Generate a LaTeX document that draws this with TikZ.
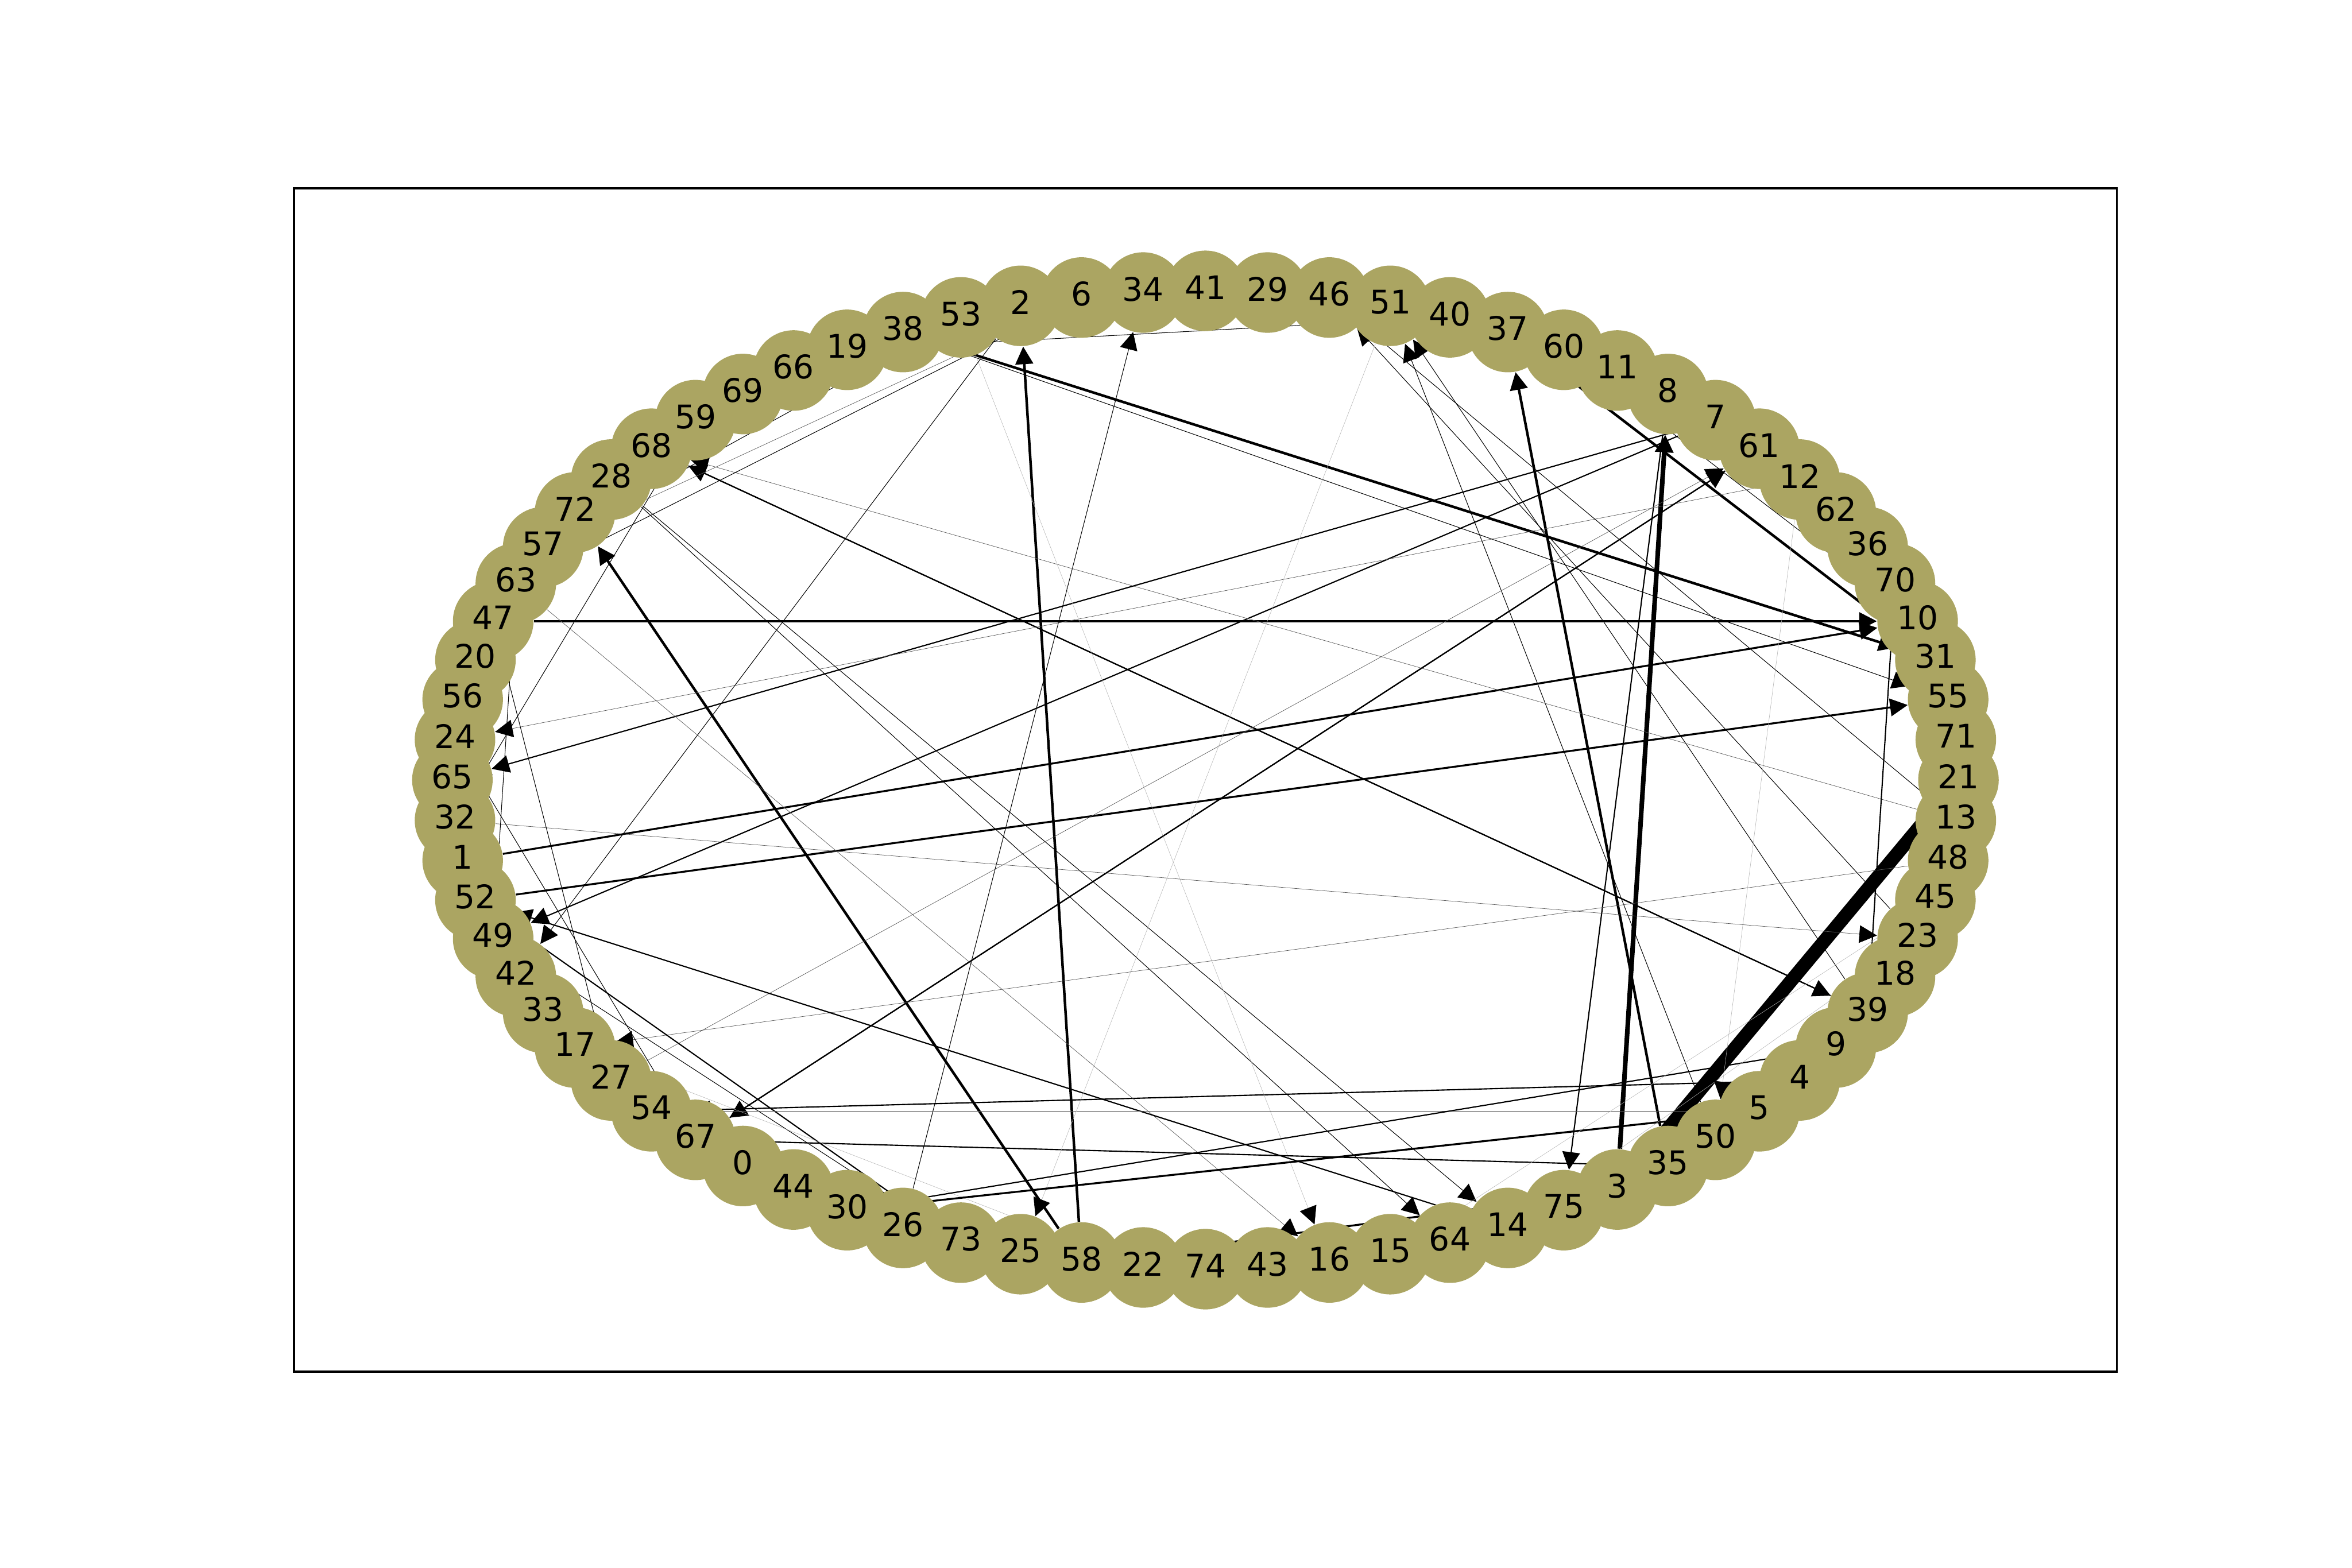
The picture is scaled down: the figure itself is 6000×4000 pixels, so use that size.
\documentclass[tikz,border=0pt]{standalone}
\usepackage{fontspec}
\setmainfont{DejaVu Sans}
\usetikzlibrary{arrows.meta,backgrounds}
\definecolor{nodecol}{RGB}{171,165,98}
\tikzset{
  vtx/.style={circle, fill=nodecol, draw=none, inner sep=0pt, minimum size=29.7pt},
  lbl/.style={inner sep=0pt, font=\fontsize{12}{14}\selectfont},
  ebase/.style={-{Triangle[length=6.5pt,width=6.5pt,color=black,fill=black]}, draw=black},
  eVT/.style={ebase, line width=5pt},
  eK1/.style={ebase, line width=1.7pt},
  eK2/.style={ebase, line width=0.95pt},
  eK3/.style={ebase, line width=0.7pt},
  eM/.style={ebase, line width=0.45pt},
  eT/.style={ebase, line width=0.22pt},
  eG/.style={ebase, line width=0.15pt, draw=black!65},
  eF/.style={ebase, line width=0.12pt, draw=black!30},
}
\begin{document}
\begin{tikzpicture}[x=0.00508cm, y=-0.00508cm]
\useasboundingbox (0,0) rectangle (6000,4000);
\draw[line width=0.8pt] (750,480) rectangle (5400,3500);
\foreach \lab [count=\i from 0] in {21,71,55,31,10,70,36,62,12,61,7,8,11,60,37,40,51,46,29,41,34,6,2,53,38,19,66,69,59,68,28,72,57,63,47,20,56,24,65,32,1,52,49,42,33,17,27,54,67,0,44,30,26,73,25,58,22,74,43,16,15,64,14,75,3,35,50,5,4,9,39,18,23,45,48,13}
  \node[vtx] (n\lab) at ({3075+1921*cos(4.7368421*\i)},{1990-1248*sin(4.7368421*\i)}) {};
\foreach \lab [count=\i from 0] in {21,71,55,31,10,70,36,62,12,61,7,8,11,60,37,40,51,46,29,41,34,6,2,53,38,19,66,69,59,68,28,72,57,63,47,20,56,24,65,32,1,52,49,42,33,17,27,54,67,0,44,30,26,73,25,58,22,74,43,16,15,64,14,75,3,35,50,5,4,9,39,18,23,45,48,13}
  \node[lbl] (l\lab) at ({3075+1921*cos(4.7368421*\i)},{1990-1248*sin(4.7368421*\i)-9}) {\lab};
\begin{scope}[on background layer]
\draw[eVT] (n21) -- (n3);
\draw[eK1] (n3) -- (n8);
\draw[eK2] (n35) -- (n37);
\draw[eM] (n8) -- (n75);
\draw[eK2] (n58) -- (n2);
\draw[eK2] (n58) -- (n72);
\draw[eK2] (n38) -- (n31);
\draw[eT] (n38) -- (n55);
\draw[eK3] (n47) -- (n10);
\draw[eK3] (n1) -- (n10);
\draw[eK3] (n52) -- (n55);
\draw[eK2] (n37) -- (n31);
\draw[eM] (n39) -- (n68);
\draw[eM] (n68) -- (n39);
\draw[eT] (n59) -- (n32);
\draw[eT] (n57) -- (n53);
\draw[eT] (n26) -- (n34);
\draw[eM] (n7) -- (n49);
\draw[eM] (n7) -- (n65);
\draw[eG] (n12) -- (n24);
\draw[eM] (n61) -- (n67);
\draw[eM] (n67) -- (n61);
\draw[eM] (n4) -- (n54);
\draw[eT] (n50) -- (n51);
\draw[eT] (n39) -- (n51);
\draw[eT] (n28) -- (n64);
\draw[eT] (n28) -- (n14);
\draw[eG] (n32) -- (n23);
\draw[eG] (n27) -- (n61);
\draw[eG] (n48) -- (n17);
\draw[eG] (n13) -- (n68);
\draw[eT] (n23) -- (n46);
\draw[eT] (n13) -- (n46);
\draw[eF] (n53) -- (n16);
\draw[eG] (n63) -- (n16);
\draw[eM] (n14) -- (n52);
\draw[eT] (n2) -- (n42);
\draw[eM] (n70) -- (n39);
\draw[eT] (n47) -- (n27);
\draw[eT] (n63) -- (n49);
\draw[eM] (n52) -- (n73);
\draw[eT] (n49) -- (n73);
\draw[eM] (n67) -- (n35);
\draw[eG] (n54) -- (n5);
\draw[eF] (n51) -- (n25);
\draw[eF] (n17) -- (n22);
\draw[eK3] (n30) -- (n5);
\draw[eM] (n30) -- (n9);
\draw[eK3] (n58) -- (n3);
\draw[eF] (n15) -- (n45);
\draw[eF] (n14) -- (n23);
\draw[eG] (n57) -- (n6);
\draw[eT] (n63) -- (n6);
\draw[eT] (n19) -- (n40);
\draw[eT] (n60) -- (n10);
\draw[eF] (n12) -- (n50);
\draw[eT] (n24) -- (n67);
\end{scope}
\end{tikzpicture}
\end{document}
